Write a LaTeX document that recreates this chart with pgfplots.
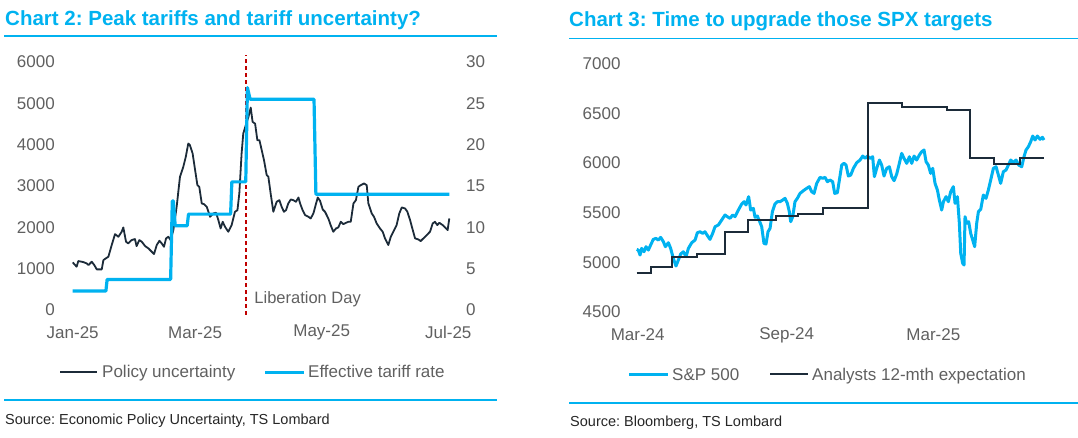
\documentclass[border=0pt]{standalone}
\usepackage{fontspec}
\setmainfont{Liberation Sans}
\usepackage{pgfplots}
\pgfplotsset{compat=1.18}
\frenchspacing

\definecolor{tscyan}{HTML}{00B2F0}
\definecolor{tsdark}{HTML}{1C2B39}
\definecolor{tsgray}{HTML}{606060}
\definecolor{tstext}{HTML}{262626}
\definecolor{tsred}{HTML}{C00000}

\pgfplotsset{
  ts base/.style={
    scale only axis,
    clip=false,
    axis line style={draw=none},
    tick style={draw=none},
    scaled ticks=false,
    /pgf/number format/assume math mode=true,
    /pgf/number format/1000 sep={},
    ticklabel style={font=\fontsize{17}{19}\selectfont, text=tsgray, inner sep=0pt},
  },
}

% x values are days: left chart from 1 Jan 2025, right chart from 1 Mar 2024
\begin{document}
\begin{tikzpicture}[x=1pt,y=1pt]
\useasboundingbox (0,0) rectangle (1078,438);

% ---------- Chart 2 ----------
\node[anchor=base west, inner sep=0, text=tscyan, font=\fontsize{20.5}{24}\selectfont\bfseries]
  at (5,412) {Chart 2: Peak tariffs and tariff uncertainty?};
\draw[tscyan, line width=1.4pt] (4,402) -- (497,402);

\begin{axis}[
  ts base,
  at={(72.7pt,128pt)}, anchor=south west,
  width=376.6pt, height=248pt,
  xmin=0, xmax=181.5,
  ymin=0, ymax=6000,
  ytick={0,1000,...,6000},
  xtick={0,59,120,181},
  xticklabels={Jan-25,Mar-25,May-25,Jul-25},
  axis y line*=left,
  xticklabel style={anchor=center, yshift=-22.7pt},
  yticklabel style={anchor=east, xshift=-17.7pt},
]
\addplot[tsdark, line width=1.8pt, line join=round] coordinates {
  (0,1152) (1.9,1047) (2.7,1184) (5.1,1160) (6.7,1128) (7.6,1087) (9.2,1168)
  (10.4,1087) (11.6,983) (14.0,983) (14.8,1208) (17.2,1289) (18.8,1571)
  (20.4,1836) (22.0,1772) (23.6,1893) (24.4,1997) (25.7,1651) (26.8,1611)
  (28.4,1691) (30.0,1716) (30.8,1546) (32.1,1691) (33.3,1651) (34.9,1546)
  (36.5,1490) (38.1,1409) (39.2,1353) (40.5,1571) (41.8,1675) (42.9,1611)
  (44.0,1530) (45.0,1732) (46.1,1772) (47.2,1691) (48.5,1933) (50.1,2497)
  (51.7,3222) (53.3,3463) (54.5,3705) (55.7,4027) (56.5,3987) (57.8,3785)
  (59.0,3383) (60.1,3020) (61.0,2980) (62.2,2577) (63.3,2561) (64.6,2497)
  (66.2,2255) (67.8,2336) (69.1,2352) (70.2,2175) (71.3,1973) (72.3,2134)
  (73.4,2014) (75.0,1893) (76.6,2054) (78.2,2376) (79.4,2416) (80.3,2819)
  (81.4,3785) (82.2,4269) (83.4,4470) (84.7,4671) (85.8,4897) (86.7,4551)
  (87.9,4510) (89.0,4108) (90.0,4108) (91.1,3866) (92.2,3624) (93.5,3262)
  (94.3,3222) (95.4,2819) (96.7,2376) (98.3,2618) (99.6,2658) (100.7,2497)
  (101.8,2376) (102.8,2416) (103.9,2577) (105.1,2674) (106.3,2658) (107.6,2618)
  (108.8,2722) (109.6,2577) (110.8,2416) (112.0,2295) (113.6,2255) (114.7,2215)
  (116.0,2336) (117.3,2577) (118.1,2722) (119.2,2642) (120.5,2432) (121.6,2376)
  (123.2,2215) (124.3,2054) (125.6,1893) (126.9,1973) (128.0,1997) (129.2,2134)
  (130.4,2078) (131.7,2110) (132.9,2134) (134.0,2134) (135.3,2577) (136.5,2658)
  (137.7,2980) (138.8,3020) (140.4,3061) (141.7,3020) (142.5,2577) (144.1,2336)
  (145.2,2255) (146.5,2094) (148.1,1973) (149.4,1893) (150.5,1732) (152.1,1571)
  (153.3,1772) (154.5,1893) (156.1,2054) (157.4,2336) (158.6,2481) (160.2,2456)
  (161.3,2376) (162.6,2175) (163.9,1933) (165.0,1732) (166.6,1707) (167.7,1667)
  (169.0,1732) (170.6,1812) (172.2,1893) (173.5,2094) (174.6,2134) (175.7,2054)
  (176.7,2110) (178.3,2054) (179.9,1973) (180.7,1933) (181.5,2215)
};
\draw[tsred, line width=1.5pt, dash pattern=on 4pt off 3pt]
  (axis cs:83.5,-121) -- (axis cs:83.5,6170);
\node[anchor=west, inner sep=0, text=tsgray, font=\fontsize{16.5}{19}\selectfont]
  at (axis cs:87.5,259) {Liberation Day};
\end{axis}

\begin{axis}[
  ts base,
  at={(72.7pt,128pt)}, anchor=south west,
  width=376.6pt, height=248pt,
  xmin=0, xmax=181.5,
  ymin=0, ymax=30,
  ytick={0,5,...,30},
  xtick=\empty,
  axis y line*=right,
  yticklabel style={anchor=west, xshift=16.7pt},
]
\addplot[tscyan, line width=3.2pt, line join=round] coordinates {
  (0,2.3) (16.0,2.3) (16.6,3.7) (47.2,3.7) (48.0,13.2) (48.5,13.2)
  (49.4,10.2) (55.2,10.2) (55.8,11.6) (76.1,11.6) (76.7,15.5) (83.4,15.5)
  (84.2,26.9) (85.5,25.5) (116.3,25.5) (117.2,14.0) (181.5,14.0)
};
\end{axis}

% legend
\draw[tsdark, line width=1.8pt] (60,65.7) -- (97,65.7);
\node[anchor=base west, inner sep=0, text=tsgray, font=\fontsize{17}{19}\selectfont]
  at (102,60) {Policy uncertainty};
\draw[tscyan, line width=3.2pt] (265,65.7) -- (304,65.7);
\node[anchor=base west, inner sep=0, text=tsgray, font=\fontsize{17}{19}\selectfont]
  at (308,60) {Effective tariff rate};

\draw[tscyan, line width=1.2pt] (4,38) -- (497,38);
\node[anchor=base west, inner sep=0, text=tstext, font=\fontsize{14.5}{17}\selectfont]
  at (5,13) {Source: Economic Policy Uncertainty, TS Lombard};

% ---------- Chart 3 ----------
\node[anchor=base west, inner sep=0, text=tscyan, font=\fontsize{20.5}{24}\selectfont\bfseries]
  at (569,411.3) {Chart 3: Time to upgrade those SPX targets};
\draw[tscyan, line width=1.4pt] (569,399.3) -- (1078,399.3);

\begin{axis}[
  ts base,
  at={(636.7pt,126.3pt)}, anchor=south west,
  width=407.3pt, height=247.7pt,
  xmin=-1.2, xmax=501.6,
  ymin=4500, ymax=7000,
  ytick={4500,5000,...,7000},
  xtick={0,184,365},
  xticklabels={Mar-24,Sep-24,Mar-25},
  xticklabel style={anchor=center, yshift=-23.3pt},
  yticklabel style={anchor=east, xshift=-16pt},
]
\addplot[tscyan, line width=3pt, line join=round] coordinates {
  (-1.2,5129) (0.8,5122) (2.9,5072) (4.9,5139) (7.8,5105) (10.3,5156) (13.2,5122)
  (16.0,5173) (19.3,5230) (22.6,5240) (25.5,5223) (28.4,5250) (31.7,5207)
  (34.2,5156) (37.9,5196) (40.7,5139) (44.0,5038) (47.3,4961) (50.2,5021)
  (53.1,5082) (56.4,5105) (59.7,5055) (62.6,5139) (66.7,5196) (70.8,5223)
  (73.7,5297) (77.0,5307) (80.2,5291) (83.1,5307) (86.4,5264) (89.3,5230)
  (92.6,5291) (95.5,5358) (99.6,5375) (103.7,5425) (107.8,5476) (110.7,5459)
  (114.0,5442) (117.3,5476) (120.2,5459) (124.3,5526) (128.4,5587) (131.3,5610)
  (133.7,5577) (137.0,5661) (139.5,5526) (142.8,5543) (144.9,5452) (147.7,5466)
  (150.2,5418) (153.1,5358) (155.9,5190) (158.4,5183) (160.9,5307) (163.4,5341)
  (166.3,5509) (169.5,5587) (172.4,5610) (175.7,5610) (179.0,5627) (181.9,5644)
  (184.8,5593) (187.2,5509) (188.9,5408) (191.4,5459) (194.2,5610) (197.1,5644)
  (200.4,5694) (204.5,5721) (208.6,5745) (211.9,5762) (214.8,5711) (217.7,5694)
  (221.0,5795) (225.1,5856) (228.4,5846) (231.3,5856) (234.2,5812) (237.4,5829)
  (240.7,5812) (243.2,5694) (246.5,5701) (249.0,5829) (251.9,5980) (254.7,5997)
  (257.2,5980) (260.1,5869) (263.0,5879) (266.3,5947) (270.4,6004) (274.5,6031)
  (277.8,6071) (280.7,6048) (283.5,6071) (286.8,6048) (290.1,6064) (292.2,5863)
  (295.1,5947) (298.4,6031) (301.2,5980) (304.1,5869) (307.4,5947) (310.7,5963)
  (313.6,5863) (316.5,5822) (319.8,5890) (323.0,5997) (325.9,6098) (328.8,6048)
  (332.1,5997) (335.4,6064) (338.3,5997) (341.2,6071) (344.4,6031) (347.7,6081)
  (350.6,6115) (353.5,6132) (356.0,6014) (358.8,5980) (361.7,5896) (364.2,5947)
  (367.1,5795) (370.0,5728) (372.4,5627) (375.3,5526) (377.4,5610) (380.7,5661)
  (383.5,5610) (386.4,5711) (389.7,5762) (391.8,5593) (394.7,5661) (397.1,5392)
  (398.8,5089) (401.2,4988) (402.9,4971) (404.1,5459) (406.2,5392) (408.6,5408)
  (411.1,5291) (413.6,5223) (416.0,5156) (418.5,5392) (420.6,5509) (423.5,5533)
  (426.7,5678) (430.0,5644) (432.9,5728) (435.8,5829) (439.1,5947) (442.4,5963)
  (445.3,5879) (448.1,5795) (451.4,5913) (454.7,5930) (457.6,5980) (460.5,6031)
  (463.8,6004) (467.1,6031) (470.4,5980) (474.1,5963) (476.9,6064) (479.4,6132)
  (482.3,6165) (485.2,6216) (487.7,6273) (490.5,6233) (493.4,6273) (496.7,6240)
  (499.6,6260) (501.6,6233)
};
\addplot[tsdark, line width=1.8pt, const plot] coordinates {
  (-1.2,4893) (16.5,4954) (42.0,5055) (73.7,5082) (107.8,5307) (135.8,5425)
  (170.8,5466) (198.4,5482) (228.4,5543) (284.0,6610) (325.9,6563) (352.7,6569)
  (381.5,6536) (410.3,6048) (439.9,5990) (472.0,6054) (501.6,6054)
};
\end{axis}

% legend
\draw[tscyan, line width=3pt] (629,63.7) -- (668,63.7);
\node[anchor=base west, inner sep=0, text=tsgray, font=\fontsize{17}{19}\selectfont]
  at (672,57.3) {S\&P 500};
\draw[tsdark, line width=1.8pt] (770,63.7) -- (808,63.7);
\node[anchor=base west, inner sep=0, text=tsgray, font=\fontsize{17}{19}\selectfont]
  at (812,57.3) {Analysts 12-mth expectation};

\draw[tscyan, line width=1.2pt] (569,35) -- (1078,35);
\node[anchor=base west, inner sep=0, text=tstext, font=\fontsize{14.5}{17}\selectfont]
  at (570,11) {Source: Bloomberg, TS Lombard};

\end{tikzpicture}
\end{document}
